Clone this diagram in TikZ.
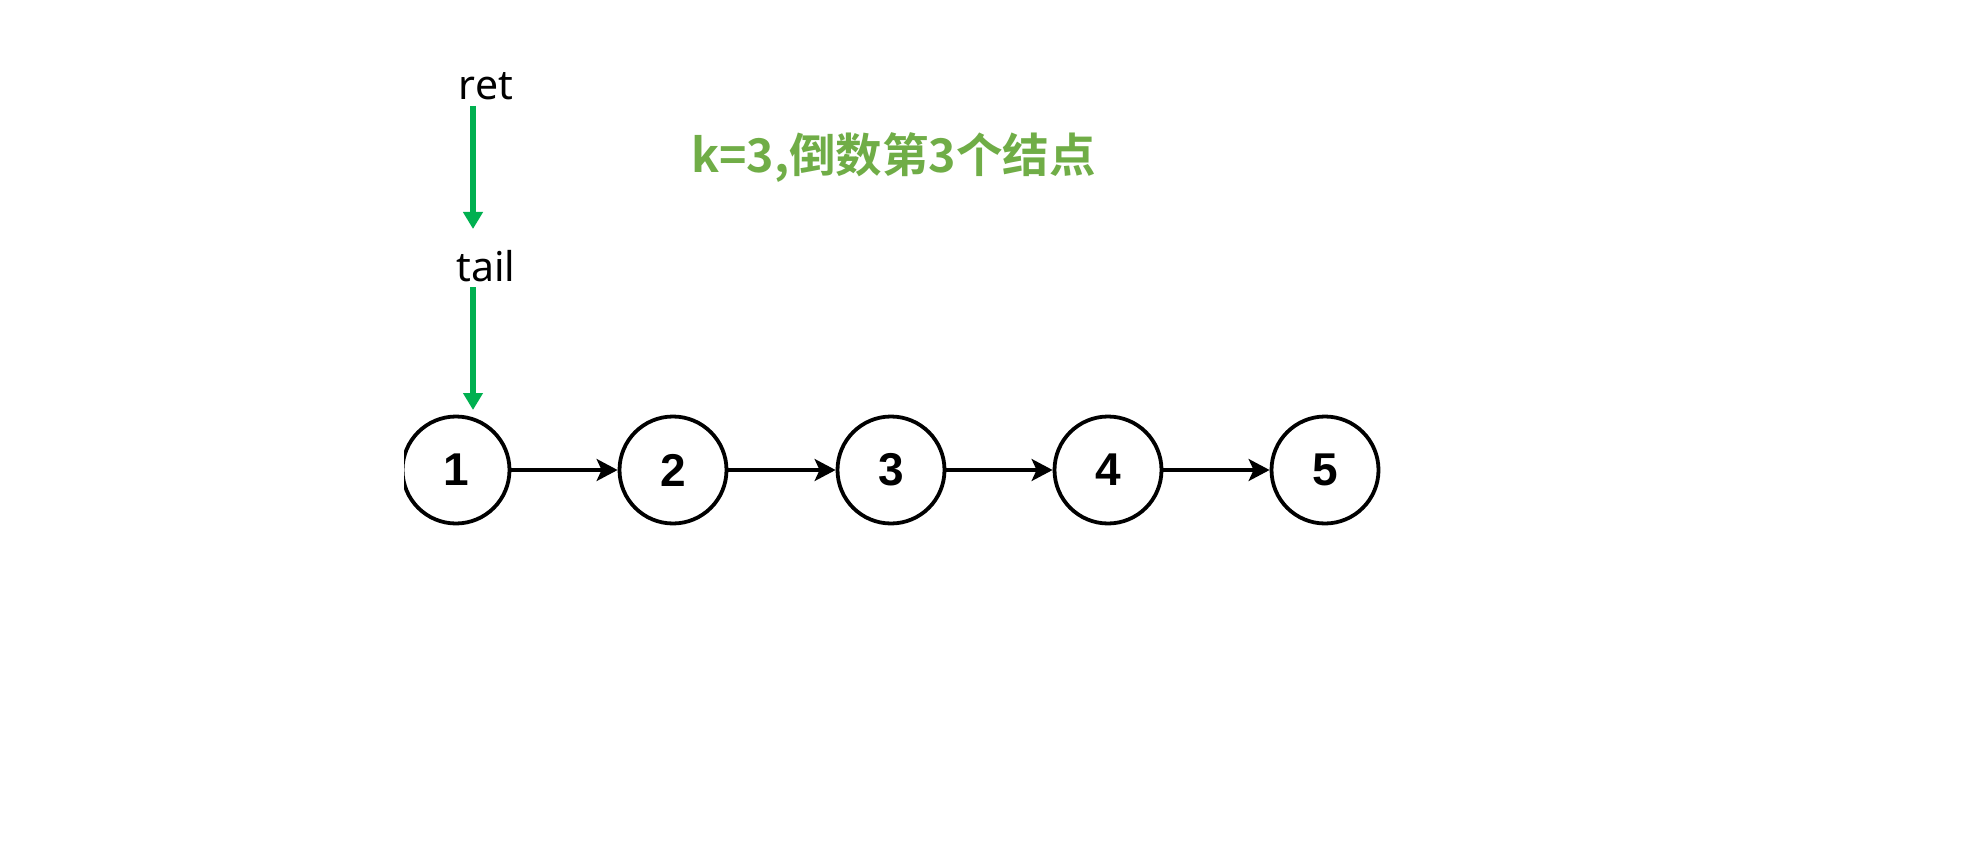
\documentclass[tikz,border=0pt]{standalone}
\usepackage{fontspec}
\usetikzlibrary{arrows.meta}
\newfontfamily\cjkbold{Noto Sans CJK SC Bold}
\newfontfamily\labfont{Noto Sans}
\newfontfamily\numfont{Liberation Sans}
\definecolor{arrgreen}{HTML}{00B050}
\definecolor{titlegreen}{HTML}{70AD47}
\tikzset{
  lnode/.style={circle,draw=black,line width=3.8pt,minimum size=107pt,inner sep=0pt,
    font=\numfont\bfseries\fontsize{46}{46}\selectfont},
  link/.style={line width=3.2pt,-{Stealth[length=21pt,width=22pt,inset=5pt]}},
  ptr/.style={draw=arrgreen,line width=6pt,-{Triangle[length=17pt,width=19pt]}},
  lab/.style={font=\labfont\fontsize{41}{41}\selectfont,inner sep=0pt,anchor=base},
}
\begin{document}
\begin{tikzpicture}[x=1pt,y=1pt]
\useasboundingbox (0,0) rectangle (1962,-861);
\fill[white] (0,0) rectangle (1962,-861);
\begin{scope}
  \clip (404,-400) rectangle (1962,-540);
  \node[lnode] (n1) at (456,-470) {1};
\end{scope}
\node[lnode] (n2) at (673,-470) {2};
\node[lnode] (n3) at (891,-470) {3};
\node[lnode] (n4) at (1108,-470) {4};
\node[lnode] (n5) at (1325,-470) {5};
\draw[link] (n1) -- (n2);
\draw[link] (n2) -- (n3);
\draw[link] (n3) -- (n4);
\draw[link] (n4) -- (n5);
\node[lab] (ret) at (486,-100) {ret};
\node[lab] (tail) at (486,-281) {tail};
\coordinate (p1s) at (473,-106);
\coordinate (p1e) at (473,-229);
\coordinate (p2s) at (473,-287);
\coordinate (p2e) at (473,-410);
\draw[ptr] (p1s) -- (p1e);
\draw[ptr] (p2s) -- (p2e);
\node[anchor=base west,inner sep=0pt,text=titlegreen,font=\cjkbold\fontsize{46.5}{46.5}\selectfont] (title) at (691,-173) {k=3,倒数第3个结点};
\end{tikzpicture}
\end{document}
